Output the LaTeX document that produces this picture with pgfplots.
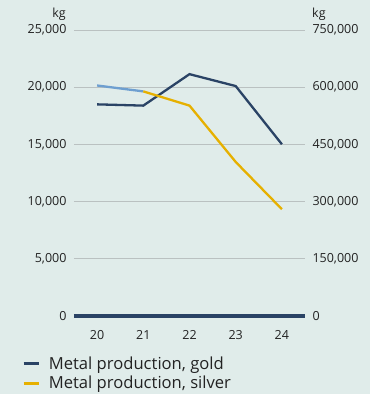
\documentclass[border=0pt]{standalone}
\usepackage{fontspec}
\setmainfont{Open Sans}
\usepackage{pgfplots}
\pgfplotsset{compat=1.18}
\definecolor{bg}{HTML}{E0ECEA}
\definecolor{goldc}{HTML}{2A4365}
\definecolor{silverc}{HTML}{E6B000}
\definecolor{lblue}{HTML}{6E9FD0}
\definecolor{gridc}{HTML}{BAC1C1}
\definecolor{txt}{HTML}{222222}
\begin{document}
\begin{tikzpicture}
\useasboundingbox (0,0) rectangle (370pt,394pt);
\fill[bg] (0,0) rectangle (370pt,394pt);
\pgfplotsset{
  common/.style={scale only axis, width=231pt, height=286pt,
    at={(74pt,78pt)}, anchor=south west,
    xmin=-0.5, xmax=4.5, ymin=0,
    y axis line style={draw=none},
    tick style={draw=none}, major tick length=0pt,
    xtick={0,...,4}, xticklabels={20,21,22,23,24},
    ticklabel style={font=\fontsize{12.5}{14}\selectfont, text=txt},
    /pgf/number format/assume math mode=true,
    /pgf/number format/fixed,
    /pgf/number format/precision=0,
    /pgf/number format/1000 sep={,},
    scaled y ticks=false, clip=false}
}
\begin{axis}[common, ymax=25000, ytick={0,5000,...,25000},
  ymajorgrids, grid style={gridc, line width=0.8pt},
  axis y line*=left, axis x line*=bottom,
  x axis line style={goldc, line width=3.6pt, -},
  xticklabel style={yshift=-11pt},
  yticklabel style={xshift=-4pt}]
\addplot[goldc, line width=2.3pt] coordinates {(0,18500) (1,18390) (2,21140) (3,20100) (4,15010)};
\node[anchor=base east, font=\fontsize{12.5}{14}\selectfont, text=txt, inner sep=0pt] at ([xshift=-8pt,yshift=12pt]rel axis cs:0,1) {kg};
\node[anchor=base west, font=\fontsize{12.5}{14}\selectfont, text=txt, inner sep=0pt] at ([xshift=7pt,yshift=12pt]rel axis cs:1,1) {kg};
\end{axis}
\begin{axis}[common, ymax=750000, ytick={0,150000,...,750000},
  axis y line*=right, axis x line=none,
  yticklabel style={xshift=4pt},
  legend style={draw=none, fill=none, anchor=north west,
    at={(axis description cs:-0.225,-0.1325)},
    font=\fontsize{16.6}{19.6}\selectfont, text=txt, inner sep=0pt,
    column sep=7pt, row sep=1.3pt,
    cells={anchor=base west, inner sep=0pt, text height=13pt, text depth=4pt}},
  legend image code/.code={\draw[#1, line width=2.6pt] (0pt,5.5pt) -- (15pt,5.5pt);}]
\addlegendimage{goldc}
\addlegendentry{Metal production, gold}
\addplot[lblue, line width=2.3pt, forget plot] coordinates {(0,604500) (1,589000)};
\addplot[silverc, line width=2.3pt] coordinates {(1,589000) (2,551700) (3,404000) (4,280000)};
\addlegendentry{Metal production, silver}
\end{axis}
\end{tikzpicture}
\end{document}
